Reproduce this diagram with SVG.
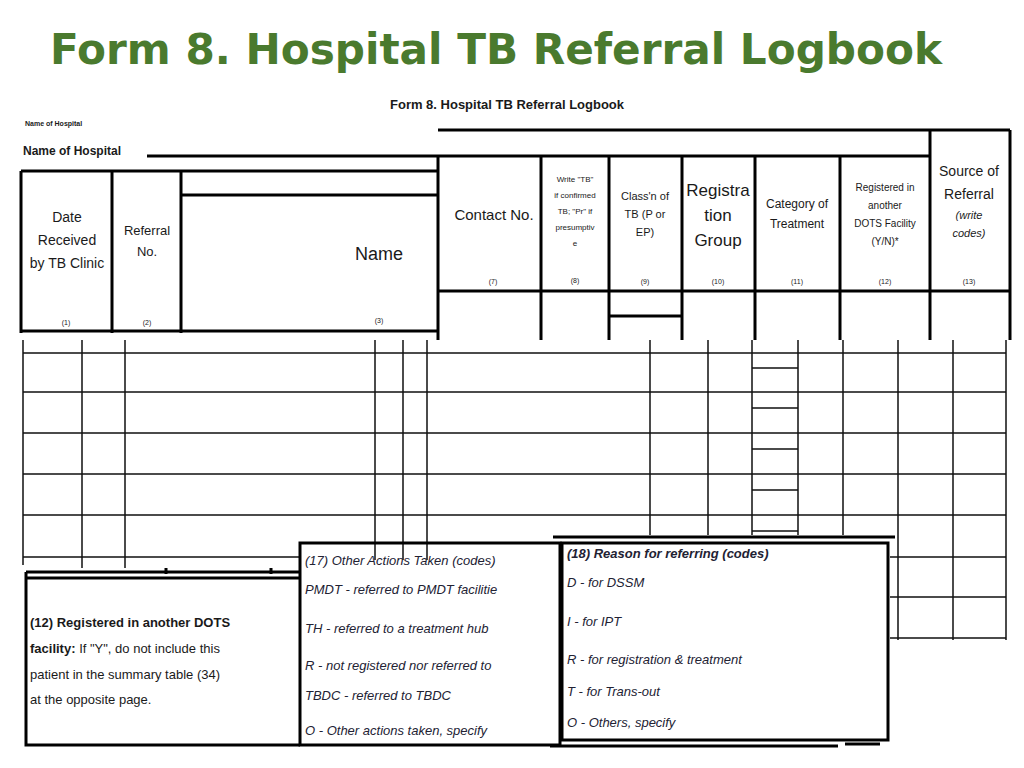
<svg xmlns="http://www.w3.org/2000/svg" width="1024" height="768" viewBox="0 0 1024 768">
<style>
.t{font-family:"Liberation Sans",Arial,sans-serif;fill:#1a1a1a}
.h{font-family:"DejaVu Sans","Liberation Sans",sans-serif;font-weight:bold;fill:#4a7a2e}
.k{stroke:#000;stroke-width:3;fill:none}
.g{stroke:#111;stroke-width:1.5;fill:none}
.s{font-size:7px}
.i{font-style:italic;font-size:13px;fill:#223}
</style>
<rect width="1024" height="768" fill="#fff"/>
<text class="h" x="50" y="64" font-size="42" textLength="892" lengthAdjust="spacingAndGlyphs">Form 8. Hospital TB Referral Logbook</text>
<g id="header">
<text class="t" x="390" y="109" font-size="13" font-weight="bold">Form 8. Hospital TB Referral Logbook</text>
<text class="t" x="25" y="126" font-size="7" font-weight="bold">Name of Hospital</text>
<text class="t" x="23" y="155" font-size="12" font-weight="bold">Name of Hospital</text>
<path class="k" d="M147 156H438M438 130H1010M438 156H930M21 171H438M181 195H438M21 171V333M112 171V333M181 171V333M21 331H438M438 156V340M930 130V340M1010 130V340M438 291H1010M541 156V340M609 156V340M682 156V340M755 156V340M840 156V340M610 316H683"/>
<text class="t" x="67" y="222" font-size="14" text-anchor="middle">Date</text>
<text class="t" x="67" y="245" font-size="14" text-anchor="middle">Received</text>
<text class="t" x="67" y="268" font-size="14" text-anchor="middle">by TB Clinic</text>
<text class="t" x="147" y="235" font-size="13" text-anchor="middle">Referral</text>
<text class="t" x="147" y="256" font-size="13" text-anchor="middle">No.</text>
<text class="t" x="379" y="260" font-size="18" text-anchor="middle">Name</text>
<text class="t" x="494" y="220" font-size="15" text-anchor="middle">Contact No.</text>
<text class="t" x="575" y="182" font-size="8" text-anchor="middle">Write "TB"</text>
<text class="t" x="575" y="198" font-size="8" text-anchor="middle">if confirmed</text>
<text class="t" x="575" y="214" font-size="8" text-anchor="middle">TB; "Pr" if</text>
<text class="t" x="575" y="230" font-size="8" text-anchor="middle">presumptiv</text>
<text class="t" x="575" y="246" font-size="8" text-anchor="middle">e</text>
<text class="t" x="645" y="200" font-size="11" text-anchor="middle">Class'n of</text>
<text class="t" x="645" y="218" font-size="11" text-anchor="middle">TB (P or</text>
<text class="t" x="645" y="236" font-size="11" text-anchor="middle">EP)</text>
<text class="t" x="718" y="196" font-size="17" text-anchor="middle">Registra</text>
<text class="t" x="718" y="221" font-size="17" text-anchor="middle">tion</text>
<text class="t" x="718" y="246" font-size="17" text-anchor="middle">Group</text>
<text class="t" x="797" y="208" font-size="12" text-anchor="middle">Category of</text>
<text class="t" x="797" y="228" font-size="12" text-anchor="middle">Treatment</text>
<text class="t" x="885" y="191" font-size="10" text-anchor="middle">Registered in</text>
<text class="t" x="885" y="209" font-size="10" text-anchor="middle">another</text>
<text class="t" x="885" y="227" font-size="10" text-anchor="middle">DOTS Facility</text>
<text class="t" x="885" y="245" font-size="10" text-anchor="middle">(Y/N)*</text>
<text class="t" x="969" y="176" font-size="14" text-anchor="middle">Source of</text>
<text class="t" x="969" y="199" font-size="14" text-anchor="middle">Referral</text>
<text class="t" x="969" y="219" font-size="11" font-style="italic" text-anchor="middle">(write</text>
<text class="t" x="969" y="237" font-size="11" font-style="italic" text-anchor="middle">codes)</text>
<g class="t s" text-anchor="middle"><text x="66" y="325">(1)</text><text x="147" y="325">(2)</text><text x="379" y="323">(3)</text><text x="493" y="284">(7)</text><text x="575" y="283">(8)</text><text x="645" y="284">(9)</text><text x="718" y="284">(10)</text><text x="797" y="284">(11)</text><text x="885" y="284">(12)</text><text x="969" y="284">(13)</text></g>
</g>
<g id="grid">
<path class="g" d="M23 340V565M82 340V568M125 340V568M375 340V560M403 340V560M427 340V560M650 340V535M708 340V535M752 340V535M798 340V535M843 340V535M898 340V640M953 340V640M1006 340V640M23 353H1006M23 392H1006M23 433H1006M23 474H1006M23 515H1006M23 557H300M890 557H1006M890 597H1006M890 638H1006M752 368H798M752 408H798M752 449H798M752 490H798M752 531H798"/>
</g>
<g id="box12">
<path class="k" d="M26 572H300M26 578H300M26 572V745H300M166 568V574M271 568V574"/>
<text class="t" x="30" y="627" font-size="13" font-weight="bold">(12) Registered in another DOTS</text>
<text class="t" x="30" y="653" font-size="13"><tspan font-weight="bold">facility:</tspan> If "Y", do not include this</text>
<text class="t" x="30" y="679" font-size="13">patient in the summary table (34)</text>
<text class="t" x="30" y="704" font-size="13">at the opposite page.</text>
</g>
<g id="box17">
<path class="k" d="M300 543H560V745H300Z"/>
<text class="t i" x="305" y="565">(17) Other Actions Taken (codes)</text>
<text class="t i" x="305" y="594">PMDT - referred to PMDT facilitie</text>
<text class="t i" x="305" y="633">TH - referred to a treatment hub</text>
<text class="t i" x="305" y="670">R - not registered nor referred to</text>
<text class="t i" x="305" y="700">TBDC - referred to TBDC</text>
<text class="t i" x="305" y="735">O - Other actions taken, specify</text>
</g>
<g id="box18">
<path class="k" d="M553 537H895M562 543H888V740H562ZM550 746H838M845 744H880"/>
<text class="t i" x="567" y="558" font-weight="bold">(18) Reason for referring (codes)</text>
<text class="t i" x="567" y="587">D - for DSSM</text>
<text class="t i" x="567" y="626">I - for IPT</text>
<text class="t i" x="567" y="664">R - for registration &amp; treatment</text>
<text class="t i" x="567" y="696">T - for Trans-out</text>
<text class="t i" x="567" y="727">O - Others, specify</text>
</g>
</svg>
